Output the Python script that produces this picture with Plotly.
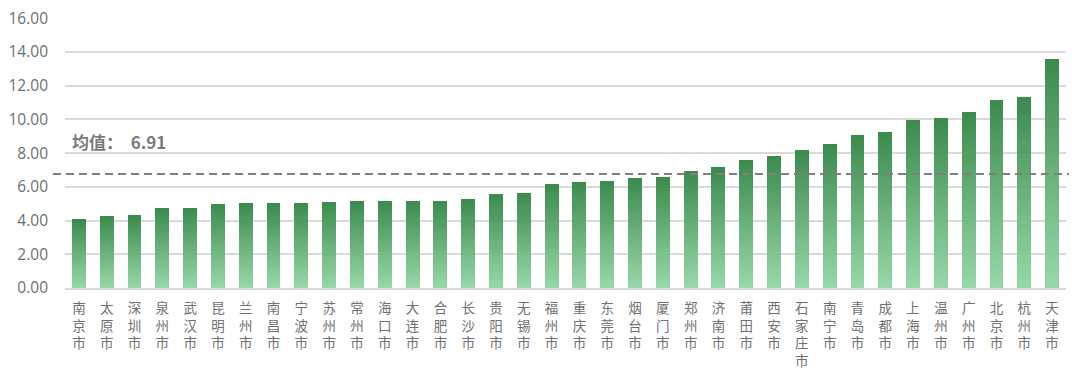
import plotly.graph_objects as go

cities = ["南京市", "太原市", "深圳市", "泉州市", "武汉市", "昆明市", "兰州市", "南昌市", "宁波市",
          "苏州市", "常州市", "海口市", "大连市", "合肥市", "长沙市", "贵阳市", "无锡市", "福州市",
          "重庆市", "东莞市", "烟台市", "厦门市", "郑州市", "济南市", "莆田市", "西安市", "石家庄市",
          "南宁市", "青岛市", "成都市", "上海市", "温州市", "广州市", "北京市", "杭州市", "天津市"]
values = [4.07, 4.29, 4.33, 4.74, 4.74, 4.98, 5.04, 5.04, 5.04,
          5.10, 5.14, 5.17, 5.17, 5.17, 5.27, 5.59, 5.63, 6.18,
          6.30, 6.34, 6.50, 6.60, 6.93, 7.15, 7.62, 7.86, 8.16,
          8.53, 9.07, 9.24, 9.97, 10.07, 10.45, 11.16, 11.32, 13.57]
mean_label = "6.91"
mean_line_value = 6.76
y_ticks = [0, 2, 4, 6, 8, 10, 12, 14, 16]

tick_text = ["<br>".join(list(c)) for c in cities]

top_rgb = (0x3d, 0x8b, 0x4f)
bottom_rgb = (0x97, 0xd7, 0xa9)
N = 40

fig = go.Figure()
for k in range(N):
    t = k / (N - 1)
    r = round(bottom_rgb[0] + (top_rgb[0] - bottom_rgb[0]) * t)
    g = round(bottom_rgb[1] + (top_rgb[1] - bottom_rgb[1]) * t)
    b = round(bottom_rgb[2] + (top_rgb[2] - bottom_rgb[2]) * t)
    fig.add_trace(go.Bar(
        x=cities, y=[v / N for v in values],
        marker=dict(color=f"rgb({r},{g},{b})", line=dict(width=0)),
        hoverinfo="skip", showlegend=False,
    ))

fig.add_shape(type="line", xref="paper", yref="y", x0=-0.012, x1=1.003,
              y0=mean_line_value, y1=mean_line_value,
              line=dict(color="#7f7f7f", width=2, dash="8px,5px"), layer="above")

fig.add_annotation(xref="paper", yref="y", x=0.005, y=8.7, xanchor="left", yanchor="middle",
                   text=f"<b>均值：  {mean_label}</b>", showarrow=False,
                   font=dict(size=17, color="#7a7a7a", family="Noto Sans CJK SC"))

# the page body adds an 8px offset, so the figure is 8px smaller and margins shifted
fig.update_layout(
    width=1072, height=365,
    margin=dict(l=57, r=14, t=10, b=85, autoexpand=False),
    barmode="stack", bargap=0.5,
    plot_bgcolor="white", paper_bgcolor="white",
    font=dict(family="Noto Sans CJK SC, Open Sans", color="#6e6e6e"),
)
fig.update_xaxes(
    tickmode="array", tickvals=cities, ticktext=tick_text, automargin=False,
    tickfont=dict(size=13.5, color="#707070", family="Noto Sans CJK SC"),
    tickangle=0, showline=True, linecolor="#d9d9d9", linewidth=1.5,
    showgrid=False, ticks="", ticklabelstandoff=7,
)
fig.update_yaxes(
    range=[0, 16.02], tickvals=y_ticks, ticktext=[f"{v:.2f}" for v in y_ticks],
    tickfont=dict(size=15.5, color="#6e6e6e", family="Open Sans"), automargin=False,
    ticklabeloverflow="allow",
    showgrid=True, gridcolor="#d9d9d9", gridwidth=1.5, zeroline=False,
    ticks="", ticklabelstandoff=16,
)

fig.write_html("out.html")
